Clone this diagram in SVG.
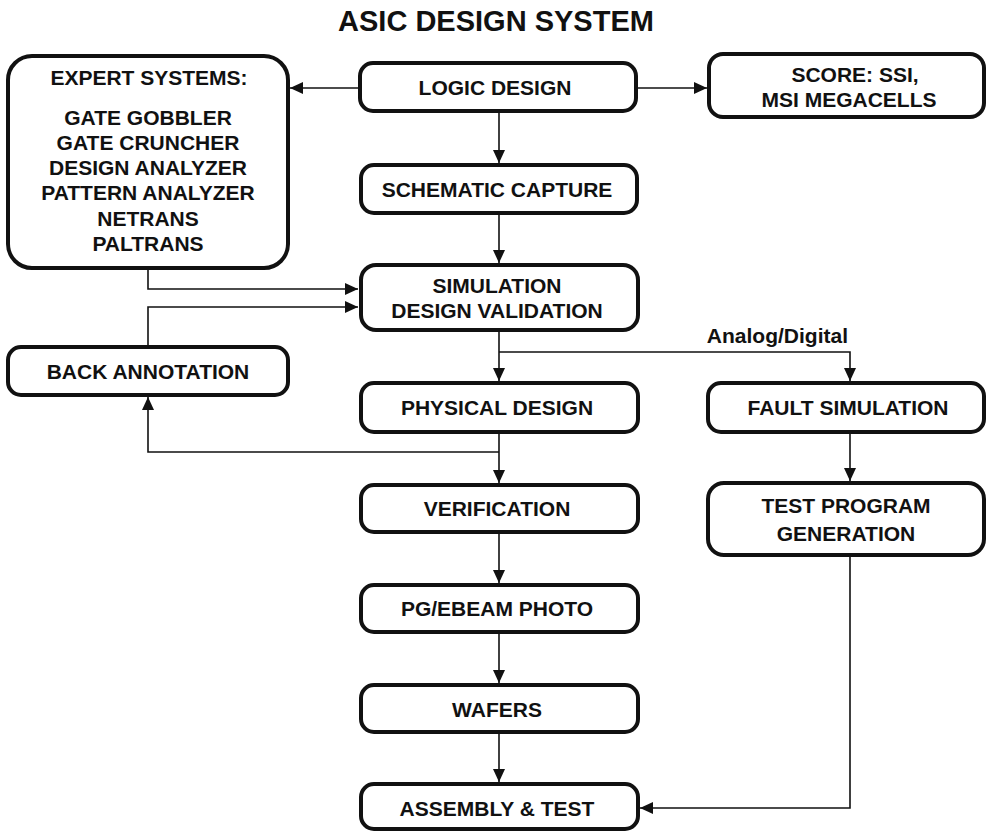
<svg xmlns="http://www.w3.org/2000/svg" width="988" height="832" viewBox="0 0 988 832">
<defs>
<style>
.box{fill:#fff;stroke:#111;stroke-width:4}
.t{font-family:"Liberation Sans",Arial,sans-serif;font-weight:bold;font-size:21px;fill:#111;text-anchor:middle}
.title{font-family:"Liberation Sans",Arial,sans-serif;font-weight:bold;font-size:29px;fill:#111;text-anchor:middle}
.c{fill:none;stroke:#111;stroke-width:1.6}
</style>
<marker id="ah" markerUnits="userSpaceOnUse" markerWidth="14" markerHeight="12" refX="13" refY="6" orient="auto">
<path d="M0,0 L13,6 L0,12 Z" fill="#111"/>
</marker>
</defs>
<rect width="988" height="832" fill="#fff"/>
<text class="title" x="496" y="31">ASIC DESIGN SYSTEM</text>

<g id="connectors">
<path class="c" d="M361,88 H290" marker-end="url(#ah)"/>
<path class="c" d="M636,88 H707" marker-end="url(#ah)"/>
<path class="c" d="M499,111 V163" marker-end="url(#ah)"/>
<path class="c" d="M499,213 V263" marker-end="url(#ah)"/>
<path class="c" d="M148,268 V289 H358" marker-end="url(#ah)"/>
<path class="c" d="M148,347 V307 H358" marker-end="url(#ah)"/>
<path class="c" d="M499,330 V381" marker-end="url(#ah)"/>
<path class="c" d="M499,352 H850 V381" marker-end="url(#ah)"/>
<path class="c" d="M499,432 V483" marker-end="url(#ah)"/>
<path class="c" d="M499,452 H148 V397" marker-end="url(#ah)"/>
<path class="c" d="M850,432 V481" marker-end="url(#ah)"/>
<path class="c" d="M499,532 V583" marker-end="url(#ah)"/>
<path class="c" d="M499,632 V683" marker-end="url(#ah)"/>
<path class="c" d="M499,732 V782" marker-end="url(#ah)"/>
<path class="c" d="M850,555 V808 H640" marker-end="url(#ah)"/>
<text class="t" x="848" y="343" style="text-anchor:end">Analog/Digital</text>
</g>

<g id="expert">
<rect class="box" x="8" y="56" width="280" height="212" rx="24"/>
<text class="t" x="149" y="85">EXPERT SYSTEMS:</text>
<text class="t" x="148" y="125">GATE GOBBLER</text>
<text class="t" x="148" y="150">GATE CRUNCHER</text>
<text class="t" x="148" y="175">DESIGN ANALYZER</text>
<text class="t" x="148" y="200">PATTERN ANALYZER</text>
<text class="t" x="148" y="226">NETRANS</text>
<text class="t" x="148" y="251">PALTRANS</text>
</g>

<g id="logic">
<rect class="box" x="360" y="63" width="276" height="48" rx="13"/>
<text class="t" x="495" y="95">LOGIC DESIGN</text>
</g>

<g id="score">
<rect class="box" x="709" y="54" width="275" height="63" rx="14"/>
<text class="t" x="855" y="82">SCORE: SSI,</text>
<text class="t" x="849" y="107">MSI MEGACELLS</text>
</g>

<g id="schematic">
<rect class="box" x="361" y="165" width="276" height="48" rx="13"/>
<text class="t" x="497" y="197">SCHEMATIC CAPTURE</text>
</g>

<g id="simulation">
<rect class="box" x="361" y="265" width="277" height="65" rx="15"/>
<text class="t" x="497" y="293">SIMULATION</text>
<text class="t" x="497" y="318">DESIGN VALIDATION</text>
</g>

<g id="backannotation">
<rect class="box" x="8" y="347" width="280" height="48" rx="13"/>
<text class="t" x="148" y="379">BACK ANNOTATION</text>
</g>

<g id="physical">
<rect class="box" x="361" y="383" width="277" height="49" rx="13"/>
<text class="t" x="497" y="415">PHYSICAL DESIGN</text>
</g>

<g id="fault">
<rect class="box" x="708" y="383" width="276" height="49" rx="13"/>
<text class="t" x="848" y="415">FAULT SIMULATION</text>
</g>

<g id="verification">
<rect class="box" x="361" y="485" width="277" height="47" rx="13"/>
<text class="t" x="497" y="516">VERIFICATION</text>
</g>

<g id="testprogram">
<rect class="box" x="708" y="483" width="276" height="72" rx="16"/>
<text class="t" x="846" y="513">TEST PROGRAM</text>
<text class="t" x="846" y="541">GENERATION</text>
</g>

<g id="pgebeam">
<rect class="box" x="361" y="585" width="277" height="47" rx="13"/>
<text class="t" x="497" y="616">PG/EBEAM PHOTO</text>
</g>

<g id="wafers">
<rect class="box" x="361" y="685" width="277" height="47" rx="13"/>
<text class="t" x="497" y="717">WAFERS</text>
</g>

<g id="assembly">
<rect class="box" x="361" y="784" width="277" height="45" rx="13"/>
<text class="t" x="497" y="816">ASSEMBLY &amp; TEST</text>
</g>
</svg>
